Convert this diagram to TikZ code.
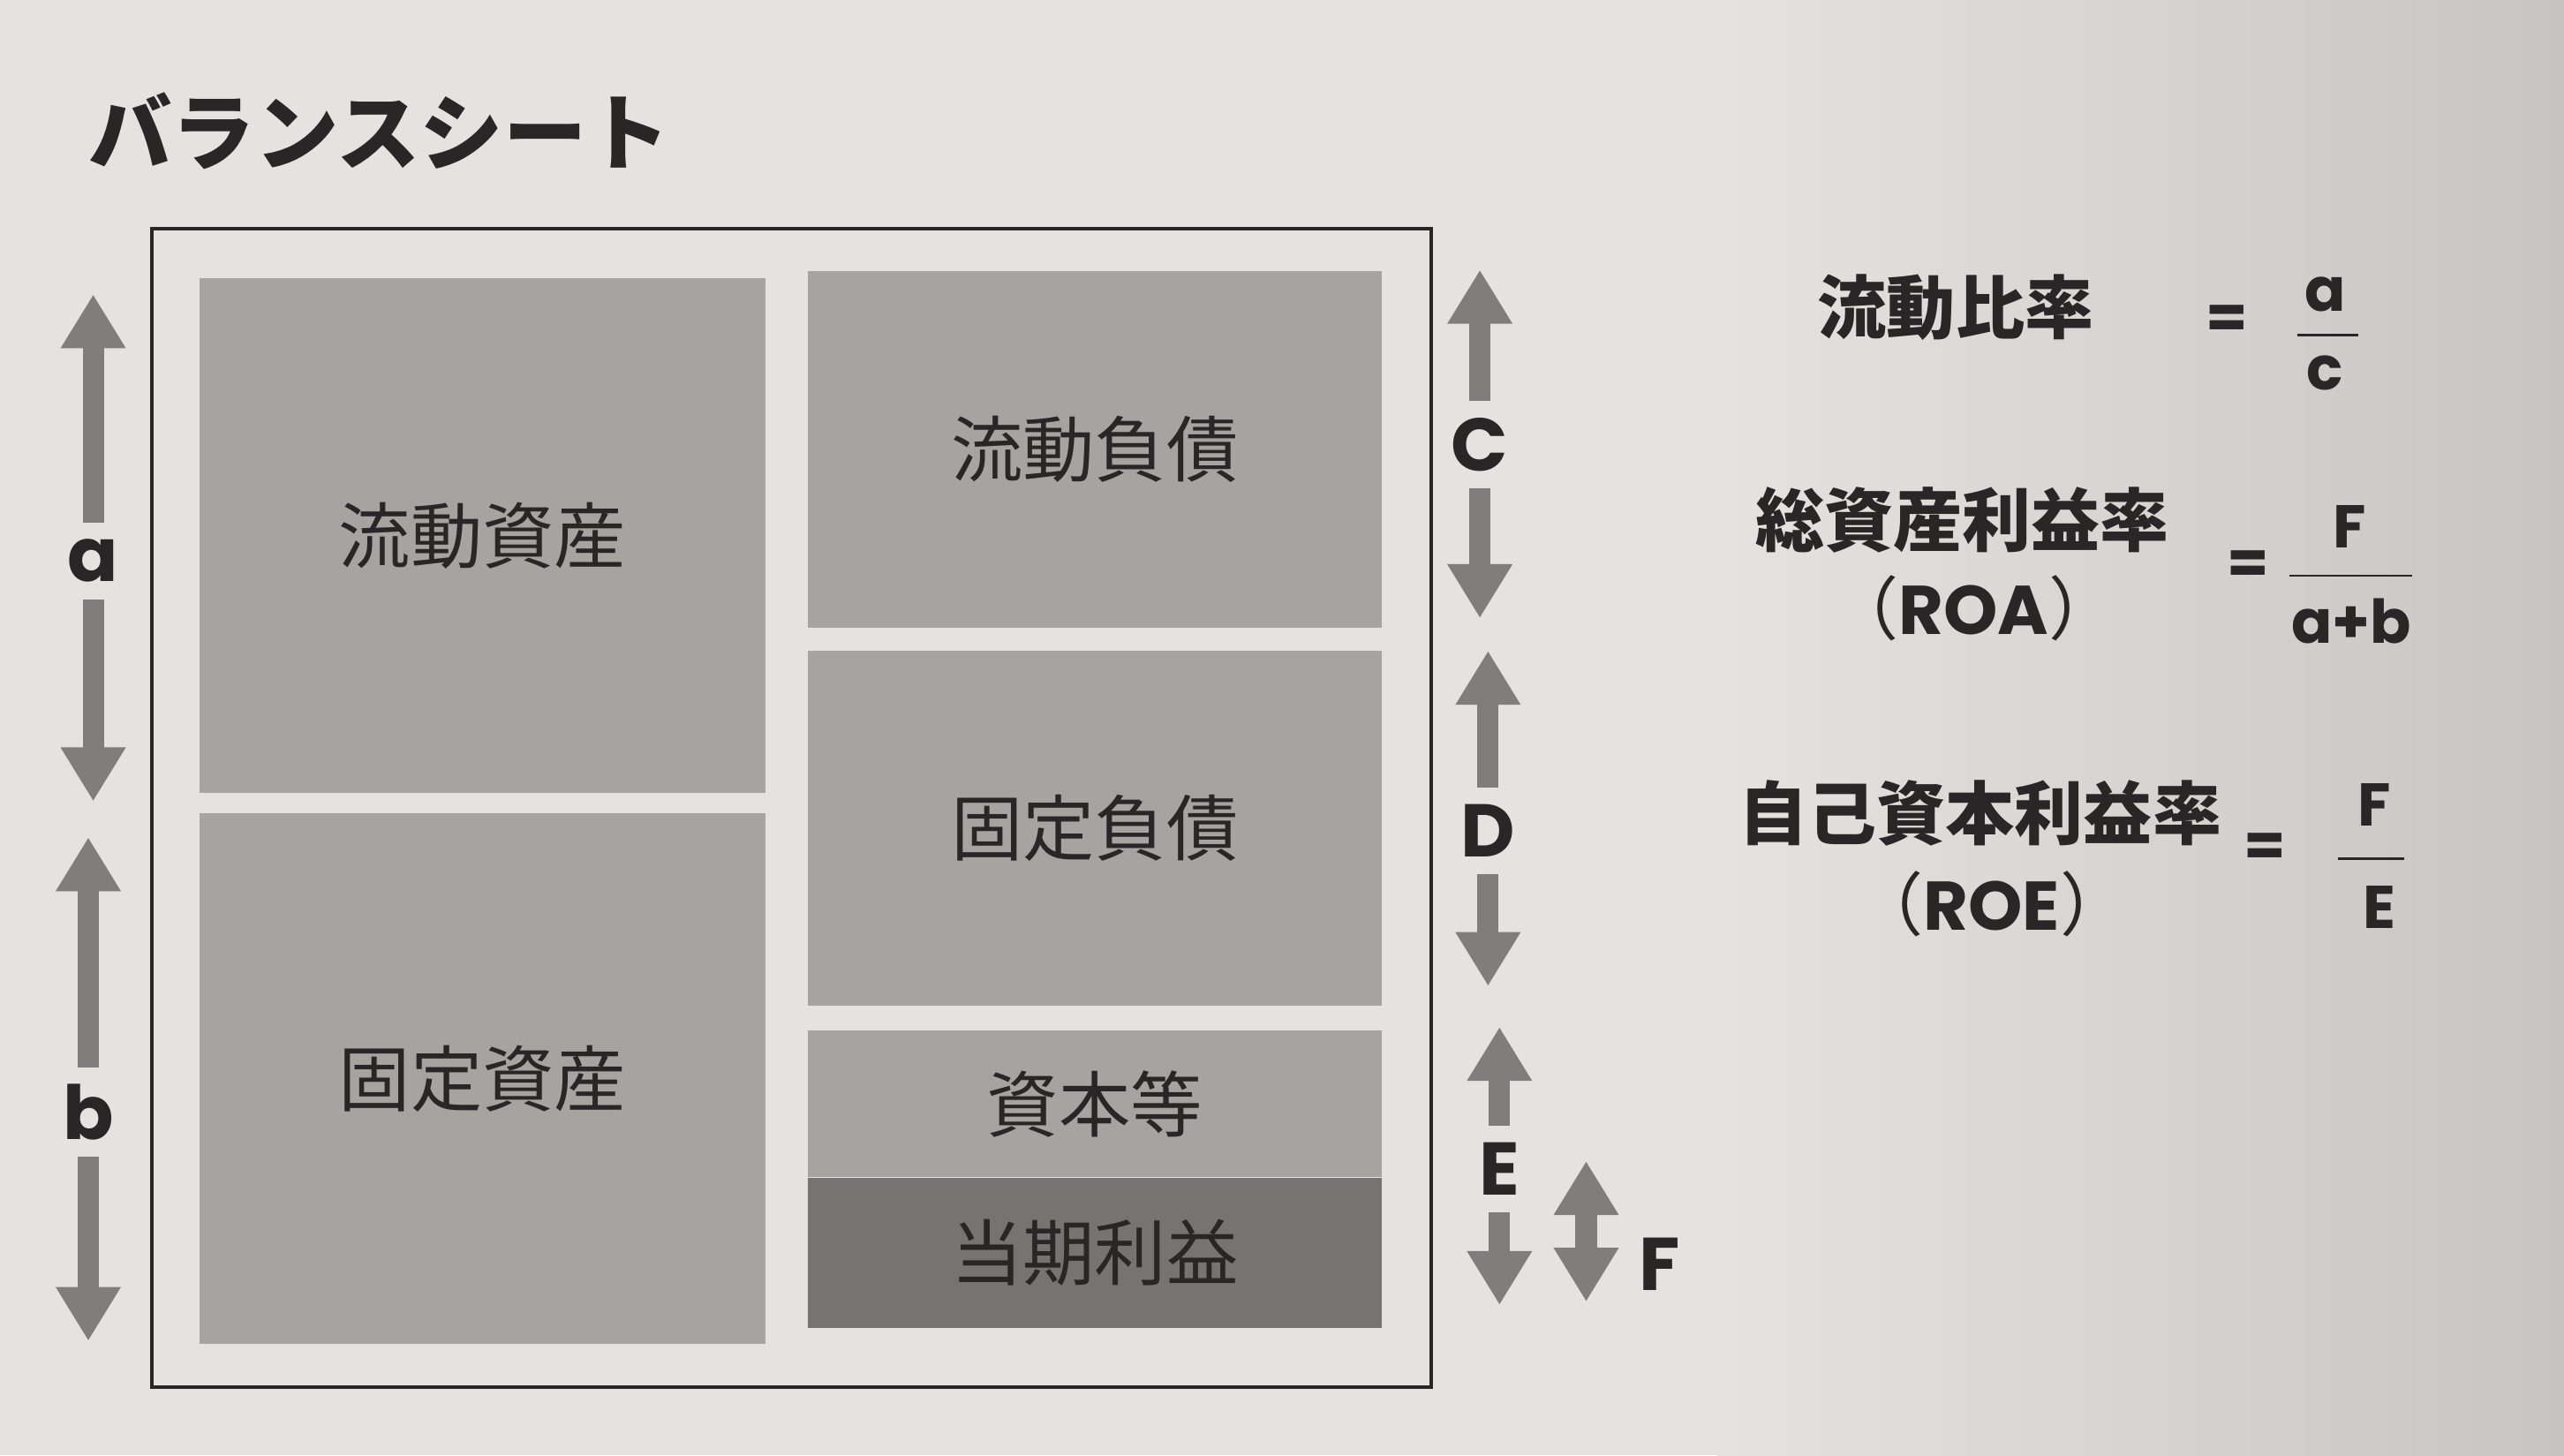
\documentclass[tikz,border=0pt]{standalone}
\usepackage{fontspec}
\setmainfont{Noto Sans CJK JP}
\newfontfamily\latinfont{Poppins}
\usetikzlibrary{arrows.meta,positioning}
\definecolor{paper}{RGB}{229,227,224}
\definecolor{shadow}{RGB}{200,196,194}
\definecolor{blockgray}{RGB}{166,164,161}
\definecolor{profitgray}{RGB}{118,116,114}
\definecolor{arrowgray}{RGB}{128,126,124}
\definecolor{ink}{RGB}{40,38,38}

\begin{document}
\begin{tikzpicture}[x=0.02cm, y=-0.02cm,
  block/.style={fill=blockgray, inner sep=0pt, text=ink, font=\fontsize{25}{30}\selectfont},
  letter/.style={text=ink, inner sep=0.2cm, font=\latinfont\bfseries\fontsize{26}{30}\selectfont},
  barrow/.style={draw=arrowgray, line width=0.26cm, -{Triangle[width=0.75cm,length=0.66cm]}},
  ratio/.style={text=ink, font=\bfseries\fontsize{24}{28}\selectfont},
  fracpart/.style={text=ink, inner sep=0pt, font=\latinfont\bfseries\fontsize{21}{24}\selectfont},
  fracbar/.style={draw=ink, line width=0.8pt}]

% paper
\useasboundingbox (0,0) rectangle (1568,890);
\fill[paper] (0,0) rectangle (1568,890);
\shade[left color=paper, right color=shadow] (1050,0) rectangle (1568,890);

% title
\node (title) at (232,80) [text=ink, font=\bfseries\fontsize{29}{34}\selectfont] {バランスシート};

% draw frame
\draw[draw=ink, line width=1.2pt] (93,140) rectangle (875,848);

% assets
\node (cur_asset) at (295,327.5) [block, minimum width=6.92cm, minimum height=6.3cm] {流動資産};
\node (fix_asset) at (295,659.5) [block, minimum width=6.92cm, minimum height=6.5cm] {固定資産};

% liabilities and equity
\node (cur_liab) at (669.5,275) [block, minimum width=7.02cm, minimum height=4.36cm] {流動負債};
\node (fix_liab) at (669.5,506.5) [block, minimum width=7.02cm, minimum height=4.34cm] {固定負債};
\node (equity) at (669.5,675) [block, minimum width=7.02cm, minimum height=1.8cm] {資本等};
\node (profit) at (669.5,766) [block, fill=profitgray, minimum width=7.02cm, minimum height=1.84cm] {当期利益};

% left arrows
\node (la) at (57,343) [letter] {a};
\coordinate (a_1) at (57,180);
\coordinate (a_2) at (57,490);
\draw[barrow] (la) -- (a_1);
\draw[barrow] (la) -- (a_2);

\node (lb) at (54,680) [letter] {b};
\coordinate (b_1) at (54,512);
\coordinate (b_2) at (54,820);
\draw[barrow] (lb) -- (b_1);
\draw[barrow] (lb) -- (b_2);

% right arrows
\node (lc) at (905,272) [letter] {C};
\coordinate (c_1) at (905,165);
\coordinate (c_2) at (905,378);
\draw[barrow] (lc) -- (c_1);
\draw[barrow] (lc) -- (c_2);

\node (ld) at (910,508) [letter] {D};
\coordinate (d_1) at (910,398);
\coordinate (d_2) at (910,603);
\draw[barrow] (ld) -- (d_1);
\draw[barrow] (ld) -- (d_2);

\node (le) at (917,715) [letter] {E};
\coordinate (e_1) at (917,628);
\coordinate (e_2) at (917,798);
\draw[barrow] (le) -- (e_1);
\draw[barrow] (le) -- (e_2);

\node (lf) at (1015,773) [letter] {F};
\coordinate (f_1) at (970,710);
\coordinate (f_2) at (970,796);
\draw[barrow, {Triangle[width=0.75cm,length=0.66cm]}-{Triangle[width=0.75cm,length=0.66cm]}] (f_1) -- (f_2);

% current ratio
\node (r1) at (1196,188) [ratio] {流動比率};
\node (r1eq) at (1362,197) [fracpart] {=};
\node (r1n) at (1422,180) [fracpart] {a};
\node (r1d) at (1422,228) [fracpart] {c};
\coordinate (r1l) at (1405,205);
\coordinate (r1r) at (1442,205);
\draw[fracbar] (r1l) -- (r1r);

% ROA
\node (r2) at (1200,318) [ratio] {総資産利益率};
\node (r2s) at (1207,372) [text=ink, font=\fontsize{24}{28}\selectfont] {（{\latinfont\bfseries ROA}）};
\node (r2eq) at (1375,347) [fracpart] {=};
\node (r2n) at (1437,322) [fracpart] {F};
\node (r2d) at (1438,380) [fracpart] {a+b};
\coordinate (r2l) at (1400,352);
\coordinate (r2r) at (1475,352);
\draw[fracbar] (r2l) -- (r2r);

% ROE
\node (r3) at (1211,497) [ratio] {自己資本利益率};
\node (r3s) at (1218,553) [text=ink, font=\fontsize{24}{28}\selectfont] {（{\latinfont\bfseries ROE}）};
\node (r3eq) at (1385,520) [fracpart] {=};
\node (r3n) at (1452,492) [fracpart] {F};
\node (r3d) at (1455,555) [fracpart] {E};
\coordinate (r3l) at (1430,525);
\coordinate (r3r) at (1470,525);
\draw[fracbar] (r3l) -- (r3r);

\end{tikzpicture}
\end{document}
